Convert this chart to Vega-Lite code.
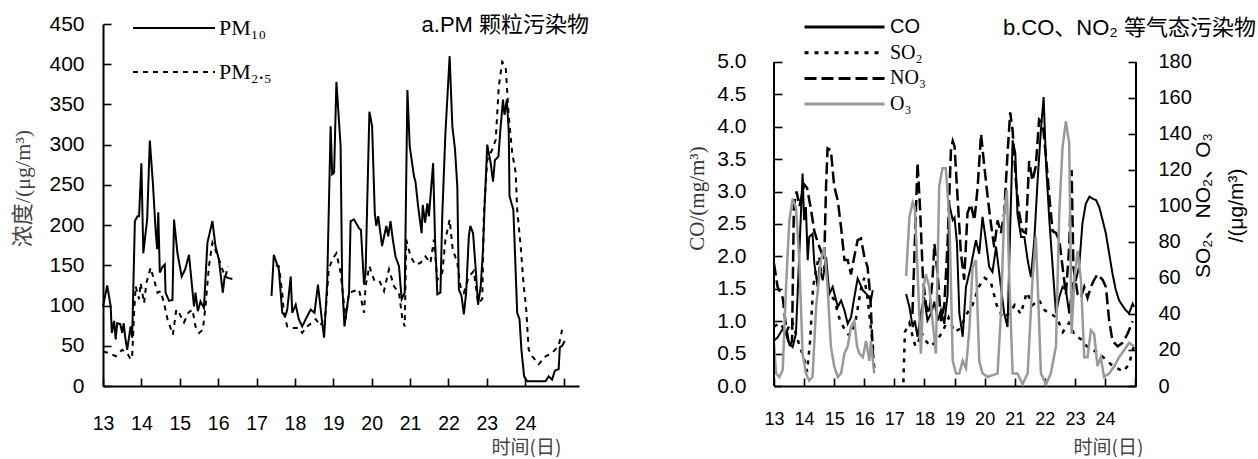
{
"$schema": "https://vega.github.io/schema/vega-lite/v6.json",
"background": "white",
"padding": {"left": 11, "top": 13, "right": 0, "bottom": 0},
"spacing": 97,
"resolve": {"scale": {"strokeDash": "independent", "color": "independent"}, "legend": {"strokeDash": "independent", "color": "independent"}},
"config": {"view": {"stroke": null}, "axis": {"grid": false, "domainColor": "#000", "tickColor": "#000", "labelColor": "#000", "labelFont": "Liberation Sans", "domainWidth": 2, "tickWidth": 1.5, "labelOverlap": false, "labelFlush": false, "gridColor": "#000", "gridWidth": 1.6, "gridOpacity": 1, "gridDash": [8, 2000]}},
"datasets": {
"pm": [
{"d":13.0,"v":99,"s":"PM₁₀","g":1},{"d":13.11,"v":125,"s":"PM₁₀","g":1},{"d":13.2,"v":99,"s":"PM₁₀","g":1},{"d":13.23,"v":66,"s":"PM₁₀","g":1},{"d":13.29,"v":81,"s":"PM₁₀","g":1},{"d":13.33,"v":58,"s":"PM₁₀","g":1},{"d":13.37,"v":78,"s":"PM₁₀","g":1},{"d":13.45,"v":77,"s":"PM₁₀","g":1},{"d":13.5,"v":66,"s":"PM₁₀","g":1},{"d":13.54,"v":78,"s":"PM₁₀","g":1},{"d":13.58,"v":60,"s":"PM₁₀","g":1},{"d":13.63,"v":45,"s":"PM₁₀","g":1},{"d":13.72,"v":74,"s":"PM₁₀","g":1},{"d":13.76,"v":60,"s":"PM₁₀","g":1},{"d":13.83,"v":205,"s":"PM₁₀","g":1},{"d":13.9,"v":211,"s":"PM₁₀","g":1},{"d":13.94,"v":211,"s":"PM₁₀","g":1},{"d":14.0,"v":277,"s":"PM₁₀","g":1},{"d":14.05,"v":165,"s":"PM₁₀","g":1},{"d":14.15,"v":207,"s":"PM₁₀","g":1},{"d":14.22,"v":305,"s":"PM₁₀","g":1},{"d":14.3,"v":252,"s":"PM₁₀","g":1},{"d":14.37,"v":194,"s":"PM₁₀","g":1},{"d":14.41,"v":170,"s":"PM₁₀","g":1},{"d":14.44,"v":216,"s":"PM₁₀","g":1},{"d":14.48,"v":141,"s":"PM₁₀","g":1},{"d":14.55,"v":148,"s":"PM₁₀","g":1},{"d":14.61,"v":151,"s":"PM₁₀","g":1},{"d":14.63,"v":116,"s":"PM₁₀","g":1},{"d":14.72,"v":106,"s":"PM₁₀","g":1},{"d":14.81,"v":107,"s":"PM₁₀","g":1},{"d":14.85,"v":207,"s":"PM₁₀","g":1},{"d":14.94,"v":165,"s":"PM₁₀","g":1},{"d":15.05,"v":136,"s":"PM₁₀","g":1},{"d":15.14,"v":145,"s":"PM₁₀","g":1},{"d":15.24,"v":163,"s":"PM₁₀","g":1},{"d":15.37,"v":99,"s":"PM₁₀","g":1},{"d":15.41,"v":116,"s":"PM₁₀","g":1},{"d":15.47,"v":93,"s":"PM₁₀","g":1},{"d":15.54,"v":105,"s":"PM₁₀","g":1},{"d":15.63,"v":97,"s":"PM₁₀","g":1},{"d":15.72,"v":178,"s":"PM₁₀","g":1},{"d":15.85,"v":205,"s":"PM₁₀","g":1},{"d":15.93,"v":174,"s":"PM₁₀","g":1},{"d":16.02,"v":157,"s":"PM₁₀","g":1},{"d":16.12,"v":116,"s":"PM₁₀","g":1},{"d":16.17,"v":136,"s":"PM₁₀","g":1},{"d":16.28,"v":134,"s":"PM₁₀","g":1},{"d":16.37,"v":133,"s":"PM₁₀","g":1},
{"d":17.39,"v":112,"s":"PM₁₀","g":2},{"d":17.45,"v":163,"s":"PM₁₀","g":2},{"d":17.58,"v":145,"s":"PM₁₀","g":2},{"d":17.67,"v":91,"s":"PM₁₀","g":2},{"d":17.75,"v":87,"s":"PM₁₀","g":2},{"d":17.8,"v":95,"s":"PM₁₀","g":2},{"d":17.89,"v":136,"s":"PM₁₀","g":2},{"d":17.93,"v":91,"s":"PM₁₀","g":2},{"d":18.02,"v":101,"s":"PM₁₀","g":2},{"d":18.1,"v":83,"s":"PM₁₀","g":2},{"d":18.19,"v":74,"s":"PM₁₀","g":2},{"d":18.28,"v":83,"s":"PM₁₀","g":2},{"d":18.41,"v":95,"s":"PM₁₀","g":2},{"d":18.51,"v":91,"s":"PM₁₀","g":2},{"d":18.6,"v":126,"s":"PM₁₀","g":2},{"d":18.7,"v":83,"s":"PM₁₀","g":2},{"d":18.76,"v":60,"s":"PM₁₀","g":2},{"d":18.84,"v":128,"s":"PM₁₀","g":2},{"d":18.93,"v":323,"s":"PM₁₀","g":2},{"d":18.97,"v":263,"s":"PM₁₀","g":2},{"d":19.02,"v":265,"s":"PM₁₀","g":2},{"d":19.08,"v":378,"s":"PM₁₀","g":2},{"d":19.19,"v":298,"s":"PM₁₀","g":2},{"d":19.23,"v":128,"s":"PM₁₀","g":2},{"d":19.29,"v":74,"s":"PM₁₀","g":2},{"d":19.41,"v":116,"s":"PM₁₀","g":2},{"d":19.45,"v":205,"s":"PM₁₀","g":2},{"d":19.54,"v":207,"s":"PM₁₀","g":2},{"d":19.67,"v":196,"s":"PM₁₀","g":2},{"d":19.72,"v":194,"s":"PM₁₀","g":2},{"d":19.8,"v":126,"s":"PM₁₀","g":2},{"d":19.84,"v":141,"s":"PM₁₀","g":2},{"d":19.94,"v":341,"s":"PM₁₀","g":2},{"d":20.01,"v":323,"s":"PM₁₀","g":2},{"d":20.08,"v":215,"s":"PM₁₀","g":2},{"d":20.12,"v":199,"s":"PM₁₀","g":2},{"d":20.17,"v":211,"s":"PM₁₀","g":2},{"d":20.27,"v":174,"s":"PM₁₀","g":2},{"d":20.38,"v":199,"s":"PM₁₀","g":2},{"d":20.43,"v":186,"s":"PM₁₀","g":2},{"d":20.49,"v":205,"s":"PM₁₀","g":2},{"d":20.55,"v":182,"s":"PM₁₀","g":2},{"d":20.62,"v":161,"s":"PM₁₀","g":2},{"d":20.71,"v":149,"s":"PM₁₀","g":2},{"d":20.78,"v":108,"s":"PM₁₀","g":2},{"d":20.86,"v":116,"s":"PM₁₀","g":2},{"d":20.93,"v":368,"s":"PM₁₀","g":2},{"d":20.99,"v":298,"s":"PM₁₀","g":2},{"d":21.1,"v":261,"s":"PM₁₀","g":2},{"d":21.14,"v":254,"s":"PM₁₀","g":2},{"d":21.21,"v":223,"s":"PM₁₀","g":2},{"d":21.3,"v":190,"s":"PM₁₀","g":2},{"d":21.33,"v":225,"s":"PM₁₀","g":2},{"d":21.39,"v":203,"s":"PM₁₀","g":2},{"d":21.45,"v":227,"s":"PM₁₀","g":2},{"d":21.49,"v":211,"s":"PM₁₀","g":2},{"d":21.6,"v":277,"s":"PM₁₀","g":2},{"d":21.65,"v":182,"s":"PM₁₀","g":2},{"d":21.71,"v":114,"s":"PM₁₀","g":2},{"d":21.79,"v":116,"s":"PM₁₀","g":2},{"d":21.84,"v":215,"s":"PM₁₀","g":2},{"d":21.92,"v":314,"s":"PM₁₀","g":2},{"d":22.03,"v":410,"s":"PM₁₀","g":2},{"d":22.1,"v":323,"s":"PM₁₀","g":2},{"d":22.17,"v":294,"s":"PM₁₀","g":2},{"d":22.23,"v":248,"s":"PM₁₀","g":2},{"d":22.27,"v":120,"s":"PM₁₀","g":2},{"d":22.34,"v":112,"s":"PM₁₀","g":2},{"d":22.4,"v":89,"s":"PM₁₀","g":2},{"d":22.46,"v":116,"s":"PM₁₀","g":2},{"d":22.53,"v":186,"s":"PM₁₀","g":2},{"d":22.57,"v":199,"s":"PM₁₀","g":2},{"d":22.64,"v":190,"s":"PM₁₀","g":2},{"d":22.71,"v":145,"s":"PM₁₀","g":2},{"d":22.77,"v":101,"s":"PM₁₀","g":2},{"d":22.84,"v":124,"s":"PM₁₀","g":2},{"d":22.9,"v":170,"s":"PM₁₀","g":2},{"d":22.94,"v":223,"s":"PM₁₀","g":2},{"d":23.01,"v":300,"s":"PM₁₀","g":2},{"d":23.1,"v":277,"s":"PM₁₀","g":2},{"d":23.16,"v":254,"s":"PM₁₀","g":2},{"d":23.21,"v":281,"s":"PM₁₀","g":2},{"d":23.3,"v":285,"s":"PM₁₀","g":2},{"d":23.36,"v":323,"s":"PM₁₀","g":2},{"d":23.42,"v":356,"s":"PM₁₀","g":2},{"d":23.46,"v":337,"s":"PM₁₀","g":2},{"d":23.52,"v":356,"s":"PM₁₀","g":2},{"d":23.57,"v":316,"s":"PM₁₀","g":2},{"d":23.59,"v":236,"s":"PM₁₀","g":2},{"d":23.69,"v":219,"s":"PM₁₀","g":2},{"d":23.79,"v":91,"s":"PM₁₀","g":2},{"d":23.85,"v":83,"s":"PM₁₀","g":2},{"d":23.9,"v":45,"s":"PM₁₀","g":2},{"d":23.97,"v":12,"s":"PM₁₀","g":2},{"d":24.05,"v":6,"s":"PM₁₀","g":2},{"d":24.3,"v":6,"s":"PM₁₀","g":2},{"d":24.53,"v":6,"s":"PM₁₀","g":2},{"d":24.61,"v":12,"s":"PM₁₀","g":2},{"d":24.7,"v":8,"s":"PM₁₀","g":2},{"d":24.77,"v":19,"s":"PM₁₀","g":2},{"d":24.87,"v":21,"s":"PM₁₀","g":2},{"d":24.9,"v":48,"s":"PM₁₀","g":2},{"d":24.96,"v":50,"s":"PM₁₀","g":2},{"d":25.03,"v":56,"s":"PM₁₀","g":2},
{"d":13.0,"v":43,"s":"PM₂.₅","g":1},{"d":13.16,"v":41,"s":"PM₂.₅","g":1},{"d":13.33,"v":37,"s":"PM₂.₅","g":1},{"d":13.5,"v":45,"s":"PM₂.₅","g":1},{"d":13.63,"v":41,"s":"PM₂.₅","g":1},{"d":13.72,"v":33,"s":"PM₂.₅","g":1},{"d":13.76,"v":37,"s":"PM₂.₅","g":1},{"d":13.81,"v":91,"s":"PM₂.₅","g":1},{"d":13.85,"v":124,"s":"PM₂.₅","g":1},{"d":13.94,"v":108,"s":"PM₂.₅","g":1},{"d":13.98,"v":128,"s":"PM₂.₅","g":1},{"d":14.07,"v":103,"s":"PM₂.₅","g":1},{"d":14.13,"v":128,"s":"PM₂.₅","g":1},{"d":14.24,"v":147,"s":"PM₂.₅","g":1},{"d":14.33,"v":132,"s":"PM₂.₅","g":1},{"d":14.42,"v":116,"s":"PM₂.₅","g":1},{"d":14.5,"v":118,"s":"PM₂.₅","g":1},{"d":14.59,"v":103,"s":"PM₂.₅","g":1},{"d":14.68,"v":83,"s":"PM₂.₅","g":1},{"d":14.82,"v":64,"s":"PM₂.₅","g":1},{"d":14.91,"v":95,"s":"PM₂.₅","g":1},{"d":14.98,"v":91,"s":"PM₂.₅","g":1},{"d":15.11,"v":79,"s":"PM₂.₅","g":1},{"d":15.22,"v":91,"s":"PM₂.₅","g":1},{"d":15.33,"v":95,"s":"PM₂.₅","g":1},{"d":15.41,"v":74,"s":"PM₂.₅","g":1},{"d":15.5,"v":66,"s":"PM₂.₅","g":1},{"d":15.6,"v":70,"s":"PM₂.₅","g":1},{"d":15.67,"v":99,"s":"PM₂.₅","g":1},{"d":15.76,"v":149,"s":"PM₂.₅","g":1},{"d":15.85,"v":178,"s":"PM₂.₅","g":1},{"d":15.98,"v":163,"s":"PM₂.₅","g":1},{"d":16.11,"v":145,"s":"PM₂.₅","g":1},{"d":16.19,"v":136,"s":"PM₂.₅","g":1},{"d":16.26,"v":149,"s":"PM₂.₅","g":1},
{"d":17.5,"v":150,"s":"PM₂.₅","g":2},{"d":17.58,"v":149,"s":"PM₂.₅","g":2},{"d":17.67,"v":116,"s":"PM₂.₅","g":2},{"d":17.71,"v":91,"s":"PM₂.₅","g":2},{"d":17.8,"v":74,"s":"PM₂.₅","g":2},{"d":17.93,"v":72,"s":"PM₂.₅","g":2},{"d":18.1,"v":72,"s":"PM₂.₅","g":2},{"d":18.19,"v":66,"s":"PM₂.₅","g":2},{"d":18.32,"v":74,"s":"PM₂.₅","g":2},{"d":18.45,"v":79,"s":"PM₂.₅","g":2},{"d":18.54,"v":83,"s":"PM₂.₅","g":2},{"d":18.67,"v":75,"s":"PM₂.₅","g":2},{"d":18.8,"v":91,"s":"PM₂.₅","g":2},{"d":18.88,"v":145,"s":"PM₂.₅","g":2},{"d":18.97,"v":157,"s":"PM₂.₅","g":2},{"d":19.08,"v":165,"s":"PM₂.₅","g":2},{"d":19.19,"v":141,"s":"PM₂.₅","g":2},{"d":19.32,"v":83,"s":"PM₂.₅","g":2},{"d":19.41,"v":116,"s":"PM₂.₅","g":2},{"d":19.54,"v":118,"s":"PM₂.₅","g":2},{"d":19.67,"v":120,"s":"PM₂.₅","g":2},{"d":19.8,"v":91,"s":"PM₂.₅","g":2},{"d":19.84,"v":124,"s":"PM₂.₅","g":2},{"d":19.94,"v":149,"s":"PM₂.₅","g":2},{"d":20.06,"v":132,"s":"PM₂.₅","g":2},{"d":20.19,"v":132,"s":"PM₂.₅","g":2},{"d":20.32,"v":118,"s":"PM₂.₅","g":2},{"d":20.45,"v":145,"s":"PM₂.₅","g":2},{"d":20.58,"v":124,"s":"PM₂.₅","g":2},{"d":20.71,"v":116,"s":"PM₂.₅","g":2},{"d":20.8,"v":83,"s":"PM₂.₅","g":2},{"d":20.86,"v":74,"s":"PM₂.₅","g":2},{"d":20.9,"v":182,"s":"PM₂.₅","g":2},{"d":21.01,"v":161,"s":"PM₂.₅","g":2},{"d":21.14,"v":151,"s":"PM₂.₅","g":2},{"d":21.27,"v":153,"s":"PM₂.₅","g":2},{"d":21.4,"v":161,"s":"PM₂.₅","g":2},{"d":21.53,"v":153,"s":"PM₂.₅","g":2},{"d":21.62,"v":182,"s":"PM₂.₅","g":2},{"d":21.71,"v":132,"s":"PM₂.₅","g":2},{"d":21.84,"v":141,"s":"PM₂.₅","g":2},{"d":21.92,"v":182,"s":"PM₂.₅","g":2},{"d":22.03,"v":207,"s":"PM₂.₅","g":2},{"d":22.11,"v":170,"s":"PM₂.₅","g":2},{"d":22.23,"v":153,"s":"PM₂.₅","g":2},{"d":22.31,"v":124,"s":"PM₂.₅","g":2},{"d":22.4,"v":116,"s":"PM₂.₅","g":2},{"d":22.53,"v":136,"s":"PM₂.₅","g":2},{"d":22.66,"v":143,"s":"PM₂.₅","g":2},{"d":22.77,"v":103,"s":"PM₂.₅","g":2},{"d":22.88,"v":108,"s":"PM₂.₅","g":2},{"d":22.92,"v":211,"s":"PM₂.₅","g":2},{"d":23.01,"v":281,"s":"PM₂.₅","g":2},{"d":23.14,"v":294,"s":"PM₂.₅","g":2},{"d":23.23,"v":306,"s":"PM₂.₅","g":2},{"d":23.31,"v":372,"s":"PM₂.₅","g":2},{"d":23.4,"v":403,"s":"PM₂.₅","g":2},{"d":23.49,"v":397,"s":"PM₂.₅","g":2},{"d":23.57,"v":335,"s":"PM₂.₅","g":2},{"d":23.66,"v":290,"s":"PM₂.₅","g":2},{"d":23.75,"v":265,"s":"PM₂.₅","g":2},{"d":23.79,"v":219,"s":"PM₂.₅","g":2},{"d":23.88,"v":174,"s":"PM₂.₅","g":2},{"d":23.96,"v":124,"s":"PM₂.₅","g":2},{"d":24.02,"v":99,"s":"PM₂.₅","g":2},{"d":24.09,"v":45,"s":"PM₂.₅","g":2},{"d":24.18,"v":37,"s":"PM₂.₅","g":2},{"d":24.35,"v":27,"s":"PM₂.₅","g":2},{"d":24.53,"v":37,"s":"PM₂.₅","g":2},{"d":24.7,"v":41,"s":"PM₂.₅","g":2},{"d":24.87,"v":50,"s":"PM₂.₅","g":2},{"d":24.96,"v":70,"s":"PM₂.₅","g":2}
],
"gas": [
{"d":13.0,"v":0.7,"s":"CO","g":1},{"d":13.12,"v":0.75,"s":"CO","g":1},{"d":13.29,"v":0.88,"s":"CO","g":1},{"d":13.4,"v":0.8,"s":"CO","g":1},{"d":13.51,"v":0.65,"s":"CO","g":1},{"d":13.62,"v":0.6,"s":"CO","g":1},{"d":13.73,"v":0.81,"s":"CO","g":1},{"d":13.84,"v":2.04,"s":"CO","g":1},{"d":13.95,"v":3.28,"s":"CO","g":1},{"d":14.0,"v":2.56,"s":"CO","g":1},{"d":14.06,"v":2.76,"s":"CO","g":1},{"d":14.12,"v":1.94,"s":"CO","g":1},{"d":14.17,"v":2.3,"s":"CO","g":1},{"d":14.28,"v":2.35,"s":"CO","g":1},{"d":14.34,"v":1.89,"s":"CO","g":1},{"d":14.45,"v":1.53,"s":"CO","g":1},{"d":14.51,"v":1.84,"s":"CO","g":1},{"d":14.62,"v":1.63,"s":"CO","g":1},{"d":14.73,"v":1.99,"s":"CO","g":1},{"d":14.84,"v":1.42,"s":"CO","g":1},{"d":14.95,"v":1.53,"s":"CO","g":1},{"d":15.12,"v":1.22,"s":"CO","g":1},{"d":15.23,"v":1.32,"s":"CO","g":1},{"d":15.34,"v":1.17,"s":"CO","g":1},{"d":15.45,"v":0.96,"s":"CO","g":1},{"d":15.56,"v":1.06,"s":"CO","g":1},{"d":15.67,"v":1.37,"s":"CO","g":1},{"d":15.78,"v":1.66,"s":"CO","g":1},{"d":15.95,"v":1.48,"s":"CO","g":1},{"d":16.11,"v":1.4,"s":"CO","g":1},{"d":16.22,"v":1.32,"s":"CO","g":1},{"d":16.28,"v":1.48,"s":"CO","g":1},
{"d":17.39,"v":1.42,"s":"CO","g":2},{"d":17.5,"v":1.22,"s":"CO","g":2},{"d":17.61,"v":0.91,"s":"CO","g":2},{"d":17.68,"v":1.01,"s":"CO","g":2},{"d":17.77,"v":0.76,"s":"CO","g":2},{"d":17.88,"v":1.12,"s":"CO","g":2},{"d":17.99,"v":1.37,"s":"CO","g":2},{"d":18.1,"v":1.01,"s":"CO","g":2},{"d":18.22,"v":1.12,"s":"CO","g":2},{"d":18.33,"v":1.3,"s":"CO","g":2},{"d":18.44,"v":1.01,"s":"CO","g":2},{"d":18.55,"v":1.17,"s":"CO","g":2},{"d":18.66,"v":0.96,"s":"CO","g":2},{"d":18.77,"v":1.42,"s":"CO","g":2},{"d":18.82,"v":2.81,"s":"CO","g":2},{"d":18.94,"v":2.56,"s":"CO","g":2},{"d":19.0,"v":2.6,"s":"CO","g":2},{"d":19.08,"v":2.2,"s":"CO","g":2},{"d":19.16,"v":1.12,"s":"CO","g":2},{"d":19.27,"v":0.76,"s":"CO","g":2},{"d":19.38,"v":1.53,"s":"CO","g":2},{"d":19.54,"v":1.84,"s":"CO","g":2},{"d":19.71,"v":2.25,"s":"CO","g":2},{"d":19.82,"v":2.04,"s":"CO","g":2},{"d":19.93,"v":2.61,"s":"CO","g":2},{"d":20.04,"v":2.25,"s":"CO","g":2},{"d":20.15,"v":1.84,"s":"CO","g":2},{"d":20.26,"v":1.76,"s":"CO","g":2},{"d":20.38,"v":2.15,"s":"CO","g":2},{"d":20.54,"v":1.53,"s":"CO","g":2},{"d":20.65,"v":1.12,"s":"CO","g":2},{"d":20.76,"v":0.91,"s":"CO","g":2},{"d":20.85,"v":2.45,"s":"CO","g":2},{"d":20.93,"v":3.79,"s":"CO","g":2},{"d":21.02,"v":3.59,"s":"CO","g":2},{"d":21.09,"v":2.66,"s":"CO","g":2},{"d":21.21,"v":2.3,"s":"CO","g":2},{"d":21.32,"v":2.3,"s":"CO","g":2},{"d":21.43,"v":1.94,"s":"CO","g":2},{"d":21.54,"v":1.68,"s":"CO","g":2},{"d":21.65,"v":2.25,"s":"CO","g":2},{"d":21.76,"v":3.17,"s":"CO","g":2},{"d":21.87,"v":3.95,"s":"CO","g":2},{"d":21.96,"v":4.46,"s":"CO","g":2},{"d":22.04,"v":3.43,"s":"CO","g":2},{"d":22.15,"v":2.56,"s":"CO","g":2},{"d":22.26,"v":1.84,"s":"CO","g":2},{"d":22.37,"v":1.12,"s":"CO","g":2},{"d":22.48,"v":1.37,"s":"CO","g":2},{"d":22.59,"v":1.53,"s":"CO","g":2},{"d":22.7,"v":1.48,"s":"CO","g":2},{"d":22.81,"v":1.12,"s":"CO","g":2},{"d":22.92,"v":1.58,"s":"CO","g":2},{"d":23.03,"v":1.63,"s":"CO","g":2},{"d":23.14,"v":1.84,"s":"CO","g":2},{"d":23.25,"v":2.51,"s":"CO","g":2},{"d":23.36,"v":2.81,"s":"CO","g":2},{"d":23.48,"v":2.92,"s":"CO","g":2},{"d":23.59,"v":2.89,"s":"CO","g":2},{"d":23.7,"v":2.87,"s":"CO","g":2},{"d":23.81,"v":2.76,"s":"CO","g":2},{"d":23.92,"v":2.56,"s":"CO","g":2},{"d":24.03,"v":2.35,"s":"CO","g":2},{"d":24.14,"v":2.04,"s":"CO","g":2},{"d":24.25,"v":1.73,"s":"CO","g":2},{"d":24.36,"v":1.48,"s":"CO","g":2},{"d":24.47,"v":1.32,"s":"CO","g":2},{"d":24.58,"v":1.24,"s":"CO","g":2},{"d":24.69,"v":1.17,"s":"CO","g":2},{"d":24.8,"v":1.12,"s":"CO","g":2},{"d":24.92,"v":1.27,"s":"CO","g":2},{"d":24.97,"v":1.22,"s":"CO","g":2},
{"d":13.0,"v":33,"s":"SO₂","g":1},{"d":13.2,"v":35,"s":"SO₂","g":1},{"d":13.4,"v":30,"s":"SO₂","g":1},{"d":13.6,"v":36,"s":"SO₂","g":1},{"d":13.8,"v":25,"s":"SO₂","g":1},{"d":14.0,"v":15,"s":"SO₂","g":1},{"d":14.1,"v":8,"s":"SO₂","g":1},{"d":14.2,"v":25,"s":"SO₂","g":1},{"d":14.3,"v":55,"s":"SO₂","g":1},{"d":14.4,"v":65,"s":"SO₂","g":1},{"d":14.5,"v":72,"s":"SO₂","g":1},{"d":14.6,"v":60,"s":"SO₂","g":1},{"d":14.7,"v":68,"s":"SO₂","g":1},{"d":14.8,"v":55,"s":"SO₂","g":1},{"d":14.9,"v":50,"s":"SO₂","g":1},{"d":15.0,"v":48,"s":"SO₂","g":1},{"d":15.1,"v":42,"s":"SO₂","g":1},{"d":15.2,"v":36,"s":"SO₂","g":1},{"d":15.3,"v":33,"s":"SO₂","g":1},{"d":15.4,"v":30,"s":"SO₂","g":1},{"d":15.5,"v":28,"s":"SO₂","g":1},{"d":15.6,"v":30,"s":"SO₂","g":1},{"d":15.7,"v":35,"s":"SO₂","g":1},{"d":15.8,"v":45,"s":"SO₂","g":1},{"d":15.9,"v":55,"s":"SO₂","g":1},{"d":16.0,"v":60,"s":"SO₂","g":1},{"d":16.1,"v":50,"s":"SO₂","g":1},{"d":16.2,"v":35,"s":"SO₂","g":1},{"d":16.3,"v":20,"s":"SO₂","g":1},
{"d":17.3,"v":2,"s":"SO₂","g":2},{"d":17.35,"v":30,"s":"SO₂","g":2},{"d":17.5,"v":35,"s":"SO₂","g":2},{"d":17.6,"v":28,"s":"SO₂","g":2},{"d":17.7,"v":22,"s":"SO₂","g":2},{"d":17.8,"v":25,"s":"SO₂","g":2},{"d":17.9,"v":30,"s":"SO₂","g":2},{"d":18.0,"v":26,"s":"SO₂","g":2},{"d":18.2,"v":22,"s":"SO₂","g":2},{"d":18.4,"v":25,"s":"SO₂","g":2},{"d":18.6,"v":30,"s":"SO₂","g":2},{"d":18.8,"v":38,"s":"SO₂","g":2},{"d":19.0,"v":30,"s":"SO₂","g":2},{"d":19.2,"v":32,"s":"SO₂","g":2},{"d":19.4,"v":40,"s":"SO₂","g":2},{"d":19.6,"v":45,"s":"SO₂","g":2},{"d":19.8,"v":55,"s":"SO₂","g":2},{"d":20.0,"v":60,"s":"SO₂","g":2},{"d":20.2,"v":58,"s":"SO₂","g":2},{"d":20.4,"v":45,"s":"SO₂","g":2},{"d":20.6,"v":38,"s":"SO₂","g":2},{"d":20.8,"v":40,"s":"SO₂","g":2},{"d":21.0,"v":45,"s":"SO₂","g":2},{"d":21.2,"v":40,"s":"SO₂","g":2},{"d":21.4,"v":52,"s":"SO₂","g":2},{"d":21.6,"v":45,"s":"SO₂","g":2},{"d":21.8,"v":48,"s":"SO₂","g":2},{"d":22.0,"v":42,"s":"SO₂","g":2},{"d":22.2,"v":40,"s":"SO₂","g":2},{"d":22.4,"v":38,"s":"SO₂","g":2},{"d":22.6,"v":30,"s":"SO₂","g":2},{"d":22.8,"v":35,"s":"SO₂","g":2},{"d":23.0,"v":28,"s":"SO₂","g":2},{"d":23.2,"v":26,"s":"SO₂","g":2},{"d":23.4,"v":22,"s":"SO₂","g":2},{"d":23.6,"v":20,"s":"SO₂","g":2},{"d":23.8,"v":18,"s":"SO₂","g":2},{"d":24.0,"v":15,"s":"SO₂","g":2},{"d":24.2,"v":12,"s":"SO₂","g":2},{"d":24.4,"v":10,"s":"SO₂","g":2},{"d":24.6,"v":8,"s":"SO₂","g":2},{"d":24.8,"v":12,"s":"SO₂","g":2},{"d":25.0,"v":25,"s":"SO₂","g":2},
{"d":13.0,"v":68,"s":"NO₃","g":1},{"d":13.12,"v":55,"s":"NO₃","g":1},{"d":13.29,"v":49,"s":"NO₃","g":1},{"d":13.4,"v":33,"s":"NO₃","g":1},{"d":13.51,"v":22,"s":"NO₃","g":1},{"d":13.6,"v":25,"s":"NO₃","g":1},{"d":13.66,"v":100,"s":"NO₃","g":1},{"d":13.75,"v":108,"s":"NO₃","g":1},{"d":13.85,"v":100,"s":"NO₃","g":1},{"d":14.0,"v":112,"s":"NO₃","g":1},{"d":14.1,"v":110,"s":"NO₃","g":1},{"d":14.23,"v":98,"s":"NO₃","g":1},{"d":14.34,"v":86,"s":"NO₃","g":1},{"d":14.45,"v":80,"s":"NO₃","g":1},{"d":14.56,"v":75,"s":"NO₃","g":1},{"d":14.67,"v":70,"s":"NO₃","g":1},{"d":14.73,"v":111,"s":"NO₃","g":1},{"d":14.78,"v":132,"s":"NO₃","g":1},{"d":14.89,"v":131,"s":"NO₃","g":1},{"d":15.0,"v":111,"s":"NO₃","g":1},{"d":15.12,"v":103,"s":"NO₃","g":1},{"d":15.23,"v":88,"s":"NO₃","g":1},{"d":15.34,"v":70,"s":"NO₃","g":1},{"d":15.45,"v":70,"s":"NO₃","g":1},{"d":15.56,"v":62,"s":"NO₃","g":1},{"d":15.67,"v":72,"s":"NO₃","g":1},{"d":15.78,"v":81,"s":"NO₃","g":1},{"d":15.89,"v":82,"s":"NO₃","g":1},{"d":16.0,"v":72,"s":"NO₃","g":1},{"d":16.11,"v":66,"s":"NO₃","g":1},{"d":16.2,"v":50,"s":"NO₃","g":1},{"d":16.28,"v":20,"s":"NO₃","g":1},{"d":16.33,"v":10,"s":"NO₃","g":1},
{"d":17.6,"v":40,"s":"NO₃","g":2},{"d":17.77,"v":124,"s":"NO₃","g":2},{"d":17.85,"v":100,"s":"NO₃","g":2},{"d":17.95,"v":60,"s":"NO₃","g":2},{"d":18.05,"v":45,"s":"NO₃","g":2},{"d":18.16,"v":40,"s":"NO₃","g":2},{"d":18.27,"v":60,"s":"NO₃","g":2},{"d":18.33,"v":79,"s":"NO₃","g":2},{"d":18.44,"v":62,"s":"NO₃","g":2},{"d":18.55,"v":36,"s":"NO₃","g":2},{"d":18.66,"v":45,"s":"NO₃","g":2},{"d":18.77,"v":80,"s":"NO₃","g":2},{"d":18.88,"v":131,"s":"NO₃","g":2},{"d":18.94,"v":136,"s":"NO₃","g":2},{"d":19.0,"v":133,"s":"NO₃","g":2},{"d":19.1,"v":105,"s":"NO₃","g":2},{"d":19.21,"v":74,"s":"NO₃","g":2},{"d":19.32,"v":59,"s":"NO₃","g":2},{"d":19.43,"v":96,"s":"NO₃","g":2},{"d":19.54,"v":101,"s":"NO₃","g":2},{"d":19.66,"v":92,"s":"NO₃","g":2},{"d":19.77,"v":111,"s":"NO₃","g":2},{"d":19.88,"v":140,"s":"NO₃","g":2},{"d":19.99,"v":122,"s":"NO₃","g":2},{"d":20.1,"v":105,"s":"NO₃","g":2},{"d":20.21,"v":90,"s":"NO₃","g":2},{"d":20.32,"v":77,"s":"NO₃","g":2},{"d":20.43,"v":92,"s":"NO₃","g":2},{"d":20.54,"v":85,"s":"NO₃","g":2},{"d":20.65,"v":96,"s":"NO₃","g":2},{"d":20.76,"v":129,"s":"NO₃","g":2},{"d":20.85,"v":152,"s":"NO₃","g":2},{"d":20.93,"v":142,"s":"NO₃","g":2},{"d":21.04,"v":114,"s":"NO₃","g":2},{"d":21.15,"v":96,"s":"NO₃","g":2},{"d":21.26,"v":86,"s":"NO₃","g":2},{"d":21.37,"v":85,"s":"NO₃","g":2},{"d":21.48,"v":125,"s":"NO₃","g":2},{"d":21.59,"v":114,"s":"NO₃","g":2},{"d":21.7,"v":122,"s":"NO₃","g":2},{"d":21.81,"v":148,"s":"NO₃","g":2},{"d":21.93,"v":146,"s":"NO₃","g":2},{"d":22.04,"v":127,"s":"NO₃","g":2},{"d":22.15,"v":105,"s":"NO₃","g":2},{"d":22.26,"v":86,"s":"NO₃","g":2},{"d":22.37,"v":85,"s":"NO₃","g":2},{"d":22.48,"v":81,"s":"NO₃","g":2},{"d":22.59,"v":66,"s":"NO₃","g":2},{"d":22.7,"v":51,"s":"NO₃","g":2},{"d":22.81,"v":77,"s":"NO₃","g":2},{"d":22.89,"v":120,"s":"NO₃","g":2},{"d":22.95,"v":66,"s":"NO₃","g":2},{"d":23.09,"v":51,"s":"NO₃","g":2},{"d":23.2,"v":49,"s":"NO₃","g":2},{"d":23.31,"v":55,"s":"NO₃","g":2},{"d":23.42,"v":49,"s":"NO₃","g":2},{"d":23.53,"v":55,"s":"NO₃","g":2},{"d":23.64,"v":59,"s":"NO₃","g":2},{"d":23.75,"v":62,"s":"NO₃","g":2},{"d":23.92,"v":59,"s":"NO₃","g":2},{"d":24.03,"v":55,"s":"NO₃","g":2},{"d":24.14,"v":36,"s":"NO₃","g":2},{"d":24.25,"v":25,"s":"NO₃","g":2},{"d":24.42,"v":22,"s":"NO₃","g":2},{"d":24.58,"v":24,"s":"NO₃","g":2},{"d":24.75,"v":29,"s":"NO₃","g":2},{"d":24.92,"v":36,"s":"NO₃","g":2},
{"d":13.0,"v":24,"s":"O₃","g":1},{"d":13.07,"v":7,"s":"O₃","g":1},{"d":13.18,"v":5,"s":"O₃","g":1},{"d":13.29,"v":9,"s":"O₃","g":1},{"d":13.4,"v":55,"s":"O₃","g":1},{"d":13.51,"v":92,"s":"O₃","g":1},{"d":13.62,"v":104,"s":"O₃","g":1},{"d":13.73,"v":99,"s":"O₃","g":1},{"d":13.84,"v":70,"s":"O₃","g":1},{"d":13.95,"v":18,"s":"O₃","g":1},{"d":14.06,"v":7,"s":"O₃","g":1},{"d":14.17,"v":3,"s":"O₃","g":1},{"d":14.28,"v":5,"s":"O₃","g":1},{"d":14.4,"v":44,"s":"O₃","g":1},{"d":14.56,"v":70,"s":"O₃","g":1},{"d":14.67,"v":77,"s":"O₃","g":1},{"d":14.78,"v":55,"s":"O₃","g":1},{"d":14.89,"v":22,"s":"O₃","g":1},{"d":15.0,"v":11,"s":"O₃","g":1},{"d":15.12,"v":5,"s":"O₃","g":1},{"d":15.23,"v":7,"s":"O₃","g":1},{"d":15.34,"v":18,"s":"O₃","g":1},{"d":15.45,"v":22,"s":"O₃","g":1},{"d":15.56,"v":33,"s":"O₃","g":1},{"d":15.67,"v":36,"s":"O₃","g":1},{"d":15.76,"v":22,"s":"O₃","g":1},{"d":15.84,"v":18,"s":"O₃","g":1},{"d":15.95,"v":16,"s":"O₃","g":1},{"d":16.06,"v":25,"s":"O₃","g":1},{"d":16.17,"v":14,"s":"O₃","g":1},{"d":16.22,"v":25,"s":"O₃","g":1},{"d":16.33,"v":7,"s":"O₃","g":1},
{"d":17.39,"v":61,"s":"O₃","g":2},{"d":17.5,"v":94,"s":"O₃","g":2},{"d":17.61,"v":102,"s":"O₃","g":2},{"d":17.68,"v":99,"s":"O₃","g":2},{"d":17.77,"v":64,"s":"O₃","g":2},{"d":17.88,"v":18,"s":"O₃","g":2},{"d":17.97,"v":55,"s":"O₃","g":2},{"d":18.05,"v":62,"s":"O₃","g":2},{"d":18.16,"v":55,"s":"O₃","g":2},{"d":18.27,"v":36,"s":"O₃","g":2},{"d":18.38,"v":18,"s":"O₃","g":2},{"d":18.49,"v":111,"s":"O₃","g":2},{"d":18.6,"v":121,"s":"O₃","g":2},{"d":18.71,"v":121,"s":"O₃","g":2},{"d":18.83,"v":92,"s":"O₃","g":2},{"d":18.94,"v":14,"s":"O₃","g":2},{"d":19.05,"v":7,"s":"O₃","g":2},{"d":19.16,"v":7,"s":"O₃","g":2},{"d":19.27,"v":14,"s":"O₃","g":2},{"d":19.38,"v":10,"s":"O₃","g":2},{"d":19.49,"v":31,"s":"O₃","g":2},{"d":19.6,"v":66,"s":"O₃","g":2},{"d":19.71,"v":70,"s":"O₃","g":2},{"d":19.82,"v":14,"s":"O₃","g":2},{"d":19.93,"v":7,"s":"O₃","g":2},{"d":20.1,"v":5,"s":"O₃","g":2},{"d":20.26,"v":6,"s":"O₃","g":2},{"d":20.43,"v":7,"s":"O₃","g":2},{"d":20.54,"v":40,"s":"O₃","g":2},{"d":20.65,"v":96,"s":"O₃","g":2},{"d":20.74,"v":109,"s":"O₃","g":2},{"d":20.82,"v":59,"s":"O₃","g":2},{"d":20.93,"v":7,"s":"O₃","g":2},{"d":21.09,"v":7,"s":"O₃","g":2},{"d":21.26,"v":1,"s":"O₃","g":2},{"d":21.43,"v":7,"s":"O₃","g":2},{"d":21.59,"v":59,"s":"O₃","g":2},{"d":21.7,"v":83,"s":"O₃","g":2},{"d":21.78,"v":49,"s":"O₃","g":2},{"d":21.87,"v":7,"s":"O₃","g":2},{"d":22.04,"v":1,"s":"O₃","g":2},{"d":22.2,"v":7,"s":"O₃","g":2},{"d":22.37,"v":22,"s":"O₃","g":2},{"d":22.48,"v":96,"s":"O₃","g":2},{"d":22.59,"v":133,"s":"O₃","g":2},{"d":22.7,"v":147,"s":"O₃","g":2},{"d":22.81,"v":135,"s":"O₃","g":2},{"d":22.89,"v":29,"s":"O₃","g":2},{"d":22.98,"v":59,"s":"O₃","g":2},{"d":23.09,"v":75,"s":"O₃","g":2},{"d":23.2,"v":59,"s":"O₃","g":2},{"d":23.31,"v":16,"s":"O₃","g":2},{"d":23.42,"v":16,"s":"O₃","g":2},{"d":23.53,"v":31,"s":"O₃","g":2},{"d":23.64,"v":29,"s":"O₃","g":2},{"d":23.75,"v":11,"s":"O₃","g":2},{"d":23.86,"v":16,"s":"O₃","g":2},{"d":23.97,"v":5,"s":"O₃","g":2},{"d":24.14,"v":7,"s":"O₃","g":2},{"d":24.31,"v":11,"s":"O₃","g":2},{"d":24.47,"v":16,"s":"O₃","g":2},{"d":24.64,"v":20,"s":"O₃","g":2},{"d":24.8,"v":24,"s":"O₃","g":2},{"d":24.97,"v":22,"s":"O₃","g":2}
]
},
"hconcat": [
{
"width": 476, "height": 362,
"layer": [
{
"data": {"name": "pm"},
"mark": {"type": "line", "strokeWidth": 2, "color": "#000"},
"encoding": {
"x": {"field": "d", "type": "quantitative", "scale": {"domain": [13, 25.4], "nice": false, "zero": false},
"axis": {"orient": "bottom", "tickCount": 500, "format": "d", "values": [13,13.25,13.5,13.75,14,14.25,14.5,14.75,15,15.25,15.5,15.75,16,16.25,16.5,16.75,17,17.25,17.5,17.75,18,18.25,18.5,18.75,19,19.25,19.5,19.75,20,20.25,20.5,20.75,21,21.25,21.5,21.75,22,22.25,22.5,22.75,23,23.25,23.5,23.75,24,24.25,24.5,24.75,25,25.25],
"labelExpr": "datum.value % 1 === 0 && datum.value <= 24 ? datum.label : ''", "ticks": false, "grid": true, "gridDashOffset": 1654, "labelPadding": 28, "labelFontSize": 19.5, "labelOverlap": false,
"title": "时间(日)", "titleFont": "Noto Sans CJK SC", "titleFontWeight": "normal", "titleFontSize": 19, "titleColor": "#444", "titleX": 423, "titleY": 61, "titleBaseline": "middle", "titleAlign": "center"}},
"y": {"field": "v", "type": "quantitative", "scale": {"domain": [0, 450], "nice": false},
"axis": {"orient": "left", "tickCount": 500, "format": "d", "values": [0,50,100,150,200,250,300,350,400,450], "ticks": false, "grid": true, "gridDashOffset": 0, "labelPadding": 19, "labelFontSize": 21, "labelOverlap": false,
"title": "浓度/(μg/m³)", "titleFont": "Liberation Serif, Noto Sans CJK SC", "titleFontWeight": "normal", "titleFontSize": 22, "titleColor": "#444", "titlePadding": 14, "titleY": 164}},
"strokeDash": {"field": "s", "type": "nominal", "scale": {"domain": ["PM₁₀", "PM₂.₅"], "range": [[1, 0], [5, 5]]},
"legend": {"orient": "none", "legendX": 29, "legendY": -6, "title": null, "symbolType": "stroke", "symbolSize": 6724, "symbolStrokeWidth": 2, "symbolStrokeColor": "#000", "clipHeight": 20, "rowPadding": 22, "labelFont": "Liberation Serif", "labelFontSize": 22, "labelColor": "#000", "labelOffset": 3, "padding": 0}},
"detail": {"field": "g", "type": "nominal"}
}
},
{
"data": {"values": [{}]},
"mark": {"type": "text", "align": "right", "baseline": "middle", "dx": 10, "dy": 1, "font": "Liberation Sans, Noto Sans CJK SC", "fontSize": 22, "color": "#000"},
"encoding": {"x": {"datum": 25.4}, "y": {"datum": 450}, "text": {"value": "a.PM 颗粒污染物"}}
}
]
},
{
"width": 362, "height": 362,
"resolve": {"scale": {"y": "independent"}},
"layer": [
{
"data": {"name": "gas"},
"transform": [{"filter": "datum.s === 'CO'"}],
"mark": {"type": "line", "strokeWidth": 2},
"encoding": {
"x": {"field": "d", "type": "quantitative", "scale": {"domain": [13, 25.03], "nice": false, "zero": false},
"axis": {"orient": "bottom", "tickCount": 500, "format": "d", "values": [13,13.25,13.5,13.75,14,14.25,14.5,14.75,15,15.25,15.5,15.75,16,16.25,16.5,16.75,17,17.25,17.5,17.75,18,18.25,18.5,18.75,19,19.25,19.5,19.75,20,20.25,20.5,20.75,21,21.25,21.5,21.75,22,22.25,22.5,22.75,23,23.25,23.5,23.75,24,24.25,24.5,24.75,25],
"labelExpr": "datum.value % 1 === 0 && datum.value <= 24 ? datum.label : ''", "ticks": false, "grid": true, "gridDashOffset": 1654, "labelPadding": 24, "labelFontSize": 18, "labelOverlap": false,
"title": "时间(日)", "titleFont": "Noto Sans CJK SC", "titleFontWeight": "normal", "titleFontSize": 19, "titleColor": "#444", "titleX": 334, "titleY": 61, "titleBaseline": "middle", "titleAlign": "center"}},
"y": {"field": "v", "type": "quantitative", "scale": {"domain": [0, 5.586], "nice": false},
"axis": {"orient": "left", "tickCount": 500, "values": [0,0.5,1,1.5,2,2.5,3,3.5,4,4.5,5], "format": ".1f", "domain": false, "ticks": false, "grid": true, "gridDashOffset": 0, "labelPadding": 28, "labelFontSize": 21, "labelOverlap": false,
"title": "CO/(mg/m³)", "titleFont": "Liberation Serif", "titleFontWeight": "normal", "titleFontSize": 21, "titleColor": "#333", "titlePadding": 9, "titleY": 174}},
"color": {"field": "s", "type": "nominal", "scale": {"domain": ["CO", "SO₂", "NO₃", "O₃"], "range": ["#000", "#000", "#000", "#999"]},
"legend": {"orient": "none", "legendX": 29, "legendY": -7, "title": null, "symbolType": "stroke", "symbolSize": 6400, "symbolStrokeWidth": 3, "clipHeight": 20, "rowPadding": 5.7, "labelFont": "Liberation Serif", "labelFontSize": 20, "labelColor": "#000", "labelOffset": 4, "padding": 0,
"encode": {"labels": {"update": {"font": {"signal": "datum.label === 'CO' ? 'Liberation Sans' : 'Liberation Serif'"}}}}}},
"strokeDash": {"field": "s", "type": "nominal", "scale": {"domain": ["CO", "SO₂", "NO₃", "O₃"], "range": [[1, 0], [4, 6], [12, 5], [1, 0]]},
"legend": {"orient": "none", "legendX": 29, "legendY": -7, "title": null, "symbolType": "stroke", "symbolSize": 6400, "symbolStrokeWidth": 3, "clipHeight": 20, "rowPadding": 5.7, "labelFont": "Liberation Serif", "labelFontSize": 20, "labelColor": "#000", "labelOffset": 4, "padding": 0,
"encode": {"labels": {"update": {"font": {"signal": "datum.label === 'CO' ? 'Liberation Sans' : 'Liberation Serif'"}}}}}},
"detail": {"field": "g", "type": "nominal"}
}
},
{
"data": {"name": "gas"},
"transform": [{"filter": "datum.s !== 'CO'"}],
"mark": {"type": "line", "strokeWidth": 2.5},
"encoding": {
"x": {"field": "d", "type": "quantitative"},
"y": {"field": "v", "type": "quantitative", "scale": {"domain": [0, 201.1], "nice": false},
"axis": {"orient": "right", "tickCount": 500, "format": "d", "values": [0,20,40,60,80,100,120,140,160,180], "domain": false, "ticks": false, "grid": true, "gridDashOffset": 0, "labelPadding": 22, "labelFontSize": 20, "labelOverlap": false,
"title": ["SO₂、NO₂、O₃", "/(μg/m³)"], "titleFont": "Liberation Sans, Noto Sans CJK SC", "titleFontWeight": "normal", "titleFontSize": 21, "titleColor": "#000", "titleAngle": -90, "titleLineHeight": 33, "titleX": 67, "titleY": 181, "titleBaseline": "middle", "titleAlign": "center"}},
"color": {"field": "s", "type": "nominal", "scale": {"domain": ["CO", "SO₂", "NO₃", "O₃"], "range": ["#000", "#000", "#000", "#999"]}},
"strokeDash": {"field": "s", "type": "nominal", "scale": {"domain": ["CO", "SO₂", "NO₃", "O₃"], "range": [[1, 0], [4, 6], [12, 5], [1, 0]]}},
"detail": {"field": "g", "type": "nominal"}
}
},
{
"data": {"values": [{}]},
"mark": {"type": "rule", "strokeWidth": 2, "color": "#000"},
"encoding": {"x": {"datum": 13}, "y": {"datum": 0, "scale": {"domain": [0, 5.586], "nice": false}, "axis": null}, "y2": {"datum": 5}}
},
{
"data": {"values": [{}]},
"mark": {"type": "rule", "strokeWidth": 2, "color": "#000"},
"encoding": {"x": {"datum": 25.03}, "y": {"datum": 0, "scale": {"domain": [0, 5.586], "nice": false}, "axis": null}, "y2": {"datum": 5}}
},
{
"data": {"values": [{}]},
"mark": {"type": "text", "align": "right", "baseline": "middle", "dx": 120, "font": "Liberation Sans, Noto Sans CJK SC", "fontSize": 22, "color": "#000"},
"encoding": {"x": {"datum": 25.03}, "y": {"datum": 5.52, "scale": {"domain": [0, 5.586], "nice": false}, "axis": null}, "text": {"value": "b.CO、NO₂ 等气态污染物"}}
}
]
}
]
}
